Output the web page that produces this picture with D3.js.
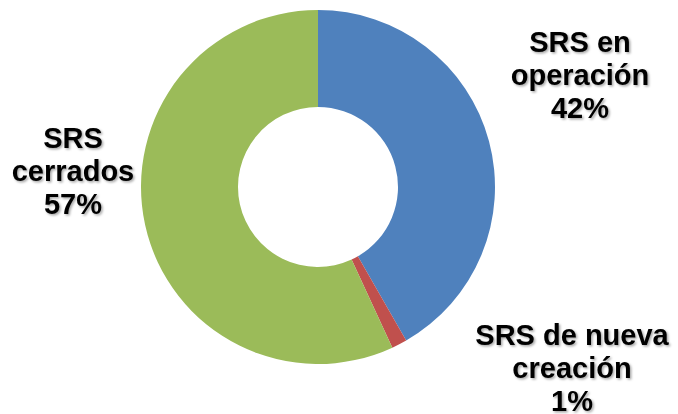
<!DOCTYPE html>
<html lang="es">
<head>
<meta charset="UTF-8">
<title>SRS</title>
<script src="https://d3js.org/d3.v7.min.js"></script>
<style>
    body { margin: 0; padding: 0; background: #fff; }
    svg { display: block; }
    .lbl { font-family: "Liberation Sans", Arial, sans-serif; font-weight: bold; font-size: 29px; fill: #000; }
</style>
</head>
<body>
<svg id="chart"></svg>
<script>
    // datos
    let categorias = ["SRS en operación", "SRS de nueva creación", "SRS cerrados"];
    let valores = [41.7, 1.4, 56.9];
    let etiquetas = [["SRS en", "operación"], ["SRS de nueva", "creación"], ["SRS", "cerrados"]];
    let colores = ["#4F81BD", "#C0504D", "#9BBB59"];

    let w = 678, h = 414;
    let cx = 318, cy = 187;
    let rExt = 177, rInt = 80;
    // posicion de cada etiqueta (centro de la primera linea) y separacion
    let posEtiq = [[580, 52], [572, 345], [73, 148]];
    let interlinea = 33;

    let svg = d3.select("#chart").attr("width", w).attr("height", h);

    let defs = svg.append("defs");
    let f = defs.append("filter").attr("id", "sombra")
        .attr("x", "-10%").attr("y", "-10%").attr("width", "120%").attr("height", "130%");
    f.append("feDropShadow").attr("dx", 1.5).attr("dy", 1.5)
        .attr("stdDeviation", 1).attr("flood-color", "#000").attr("flood-opacity", 0.35);

    let pie = d3.pie().sort(null).value(d => d);
    let arc = d3.arc().innerRadius(rInt).outerRadius(rExt);

    let g = svg.append("g").attr("transform", `translate(${cx},${cy})`);
    g.selectAll("path")
        .data(pie(valores))
        .enter().append("path")
        .attr("d", arc)
        .attr("fill", (d, i) => colores[i]);

    let total = d3.sum(valores);
    let fmt = v => Math.round(v / total * 100) + "%";

    categorias.forEach((c, i) => {
        let lineas = etiquetas[i].concat([fmt(valores[i])]);
        let t = svg.append("text")
            .attr("class", "lbl")
            .attr("text-anchor", "middle")
            .attr("filter", "url(#sombra)");
        lineas.forEach((l, j) => {
            t.append("tspan")
                .attr("x", posEtiq[i][0])
                .attr("y", posEtiq[i][1] + j * interlinea)
                .text(l);
        });
    });
</script>
</body>
</html>
